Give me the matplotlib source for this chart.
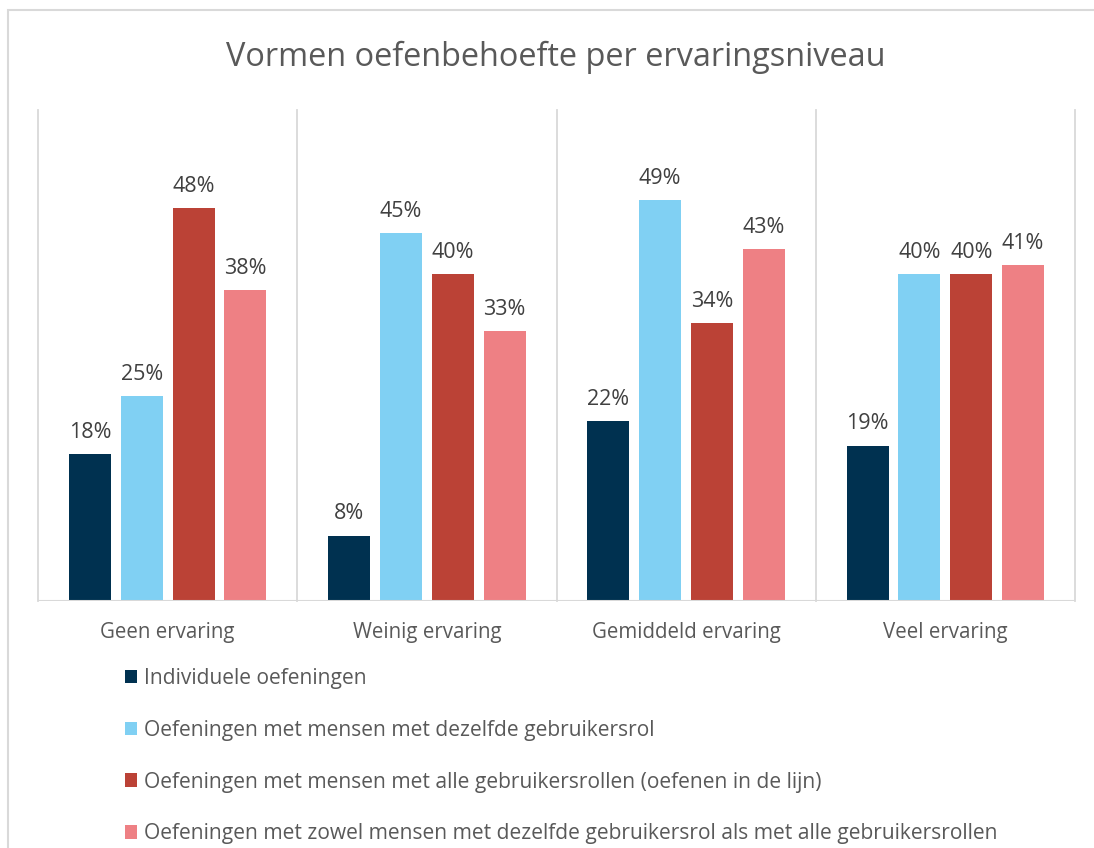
import numpy as np
import matplotlib.pyplot as plt
from matplotlib.patches import Rectangle, Patch

plt.rcParams['font.family'] = ['Open Sans', 'DejaVu Sans']

# data (percent)
categories = ["Geen ervaring", "Weinig ervaring", "Gemiddeld ervaring", "Veel ervaring"]
series_names = [
    "Individuele oefeningen",
    "Oefeningen met mensen met dezelfde gebruikersrol",
    "Oefeningen met mensen met alle gebruikersrollen (oefenen in de lijn)",
    "Oefeningen met zowel mensen met dezelfde gebruikersrol als met alle gebruikersrollen",
]
individueel = [18, 8, 22, 19]
zelfde_rol = [25, 45, 49, 40]
alle_rollen = [48, 40, 34, 40]
zowel = [38, 33, 43, 41]

colors = ["#003150", "#80d0f3", "#bb4236", "#ee8084"]
txt = "#595959"
grid = "#d9d9d9"

fig = plt.figure(figsize=(10.94, 8.48), dpi=100)
W, H = 1094, 848

# outer chart border (cut off at right/bottom in the reference)
fig.patches.append(Rectangle((8 / W, -0.1), 1.2, (848 - 10) / H + 0.1,
                             transform=fig.transFigure, fill=False,
                             edgecolor=grid, lw=1.5))

ax = fig.add_axes([38 / W, (H - 601) / H, (1075 - 38) / W, (601 - 110) / H])

x = np.arange(len(categories))
width = 0.162
step = 0.2
all_series = [individueel, zelfde_rol, alle_rollen, zowel]
for i, (vals, c) in enumerate(zip(all_series, colors)):
    bars = ax.bar(x + (i - 1.5) * step, vals, width, color=c, label=series_names[i], zorder=3)
    ax.bar_label(bars, labels=[f"{v}%" for v in vals], padding=8,
                 fontsize=15.5, color="#404040")

ax.set_xlim(-0.5, len(categories) - 0.5)
ax.set_ylim(0, 60)
ax.set_yticks([])
for s in ax.spines.values():
    s.set_visible(False)
for xv in np.arange(-0.5, len(categories), 1):
    ax.plot([xv, xv], [0, 60], color=grid, lw=1.3, zorder=1, clip_on=False)
ax.axhline(0, color=grid, lw=1.5, zorder=4)

ax.set_xticks(x)
ax.set_xticklabels(categories, fontsize=14.8, color=txt)
ax.tick_params(axis='x', length=0, pad=15)

fig.text(556 / W, (H - 57) / H, "Vormen oefenbehoefte per ervaringsniveau",
         ha='center', va='center', fontsize=23.4, color=txt)

handles = [Patch(facecolor=c) for c in colors]
fig.legend(handles, series_names, loc='upper left',
           bbox_to_anchor=(106 / W, (H - 649) / H), frameon=False,
           fontsize=15.1, labelcolor=txt, handlelength=0.6, handleheight=0.6,
           handletextpad=0.3, labelspacing=1.47)

fig.savefig("out.png", dpi=100)
